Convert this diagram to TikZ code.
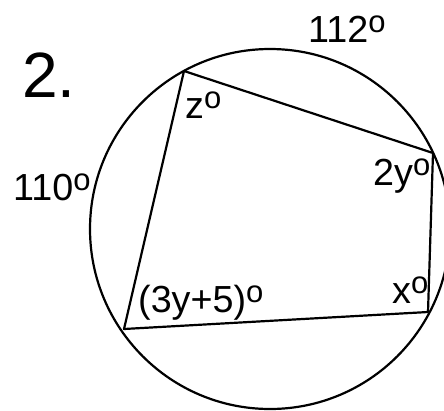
\documentclass[tikz,border=0pt]{standalone}
\usepackage{fontspec}
\setmainfont{Liberation Sans}
\newcommand{\dgo}{\raisebox{10pt}{\fontsize{31}{31}\selectfont o}}
\tikzset{
    lbl/.style={anchor=base west, inner sep=0pt, font=\fontsize{37.7}{40}\selectfont},
    edge/.style={line width=2.2pt, line join=round}
}

\begin{document}
\begin{tikzpicture}[x=1pt, y=-1pt]
    \useasboundingbox (0,0) rectangle (444,410);
    \coordinate (O) at (270,229);
    \draw[edge] (O) circle (180pt);
    \coordinate (A) at (184,71);
    \coordinate (B) at (433,153);
    \coordinate (C) at (428,312);
    \coordinate (D) at (124,329);
    \draw[edge] (A) -- (B) -- (C) -- (D) -- cycle;
    \node[lbl, font=\fontsize{64}{66}\selectfont] (num) at (22,97) {2.};
    \node[lbl] (arcTop) at (308,42) {112\dgo};
    \node[lbl] (arcLeft) at (13,200) {110\dgo};
    \node[lbl] (angZ) at (185,118) {z\dgo};
    \node[lbl] (angY) at (373,185) {2y\dgo};
    \node[lbl] (angX) at (392,303) {x\dgo};
    \node[lbl] (angD) at (138,312) {(3y+5)\dgo};
\end{tikzpicture}
\end{document}
